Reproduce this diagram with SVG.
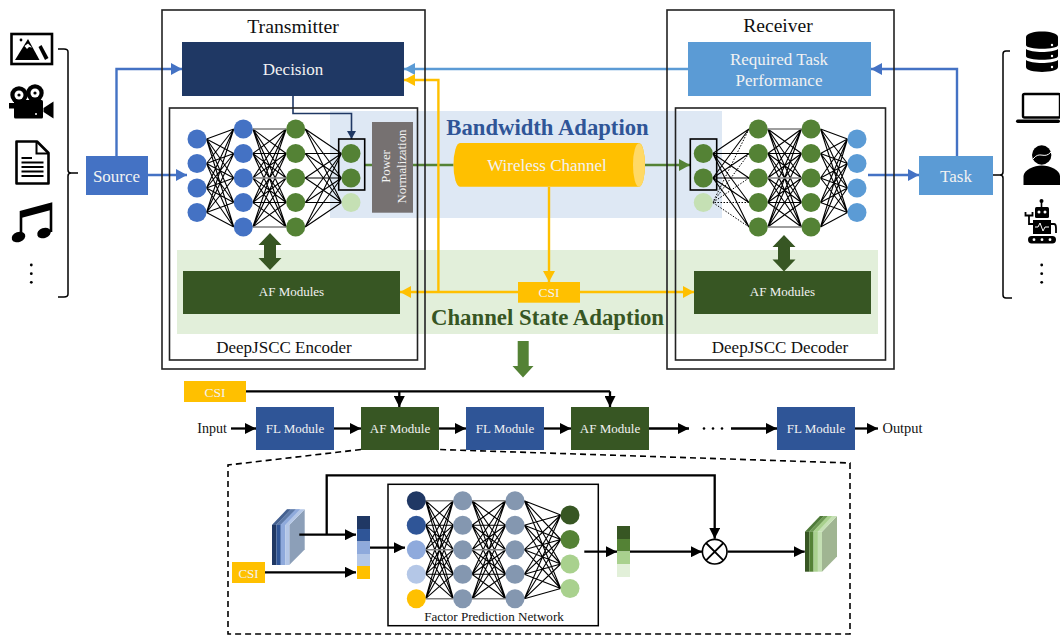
<svg xmlns="http://www.w3.org/2000/svg" xmlns:xlink="http://www.w3.org/1999/xlink" width="1060" height="635" viewBox="0 0 1060 635">
<style>
text{font-family:"Liberation Serif","Times New Roman",serif;text-anchor:middle}
.lt{fill:#f2f2f2}
.dk{fill:#111}
.box{fill:none;stroke:#222;stroke-width:1.6}
.m{fill:none;stroke:#000;stroke-width:1.1;vector-effect:non-scaling-stroke}
.g{fill:none;stroke:#7f7f7f;stroke-width:1.6;vector-effect:non-scaling-stroke}
.dot{fill:none;stroke:#000;stroke-width:1;stroke-dasharray:1.5 1.5;vector-effect:non-scaling-stroke}
.bl{fill:none;stroke:#4472c4;stroke-width:2.4}
.lb{fill:none;stroke:#5b9bd5;stroke-width:2.4}
.ye{fill:none;stroke:#ffc000;stroke-width:2.4}
.gr{fill:none;stroke:#548235;stroke-width:2.4}
.nv{fill:none;stroke:#1f3864;stroke-width:1.6}
.bk{fill:none;stroke:#000;stroke-width:2.3}
.br{fill:none;stroke:#000;stroke-width:1.5}
.blue{fill:#4472c4}.sky{fill:#5b9bd5}.grn{fill:#548235}.pale{fill:#c5e0b4}.sl{fill:#8497b0}
</style>
<defs>
<marker id="aBl" markerUnits="userSpaceOnUse" markerWidth="11" markerHeight="12" refX="11" refY="6" orient="auto"><path d="M0 0L11 6L0 12z" fill="#4472c4"/></marker>
<marker id="aLb" markerUnits="userSpaceOnUse" markerWidth="11" markerHeight="12" refX="11" refY="6" orient="auto"><path d="M0 0L11 6L0 12z" fill="#5b9bd5"/></marker>
<marker id="aYe" markerUnits="userSpaceOnUse" markerWidth="11" markerHeight="12" refX="11" refY="6" orient="auto"><path d="M0 0L11 6L0 12z" fill="#ffc000"/></marker>
<marker id="aGr" markerUnits="userSpaceOnUse" markerWidth="11" markerHeight="12" refX="11" refY="6" orient="auto"><path d="M0 0L11 6L0 12z" fill="#548235"/></marker>
<marker id="aNv" markerUnits="userSpaceOnUse" markerWidth="8" markerHeight="9" refX="8" refY="4.5" orient="auto"><path d="M0 0L8 4.5L0 9z" fill="#1f3864"/></marker>
<marker id="aBk" markerUnits="userSpaceOnUse" markerWidth="11" markerHeight="11" refX="11" refY="5.5" orient="auto"><path d="M0 0L11 5.5L0 11z" fill="#000"/></marker>
<g id="M55">
<path class="m" d="M0 0L100 24.5M0 0L100 49M0 0L100 73.5M0 0L100 98M0 24.5L100 0M0 24.5L100 24.5M0 24.5L100 49M0 24.5L100 73.5M0 24.5L100 98M0 49L100 0M0 49L100 24.5M0 49L100 73.5M0 49L100 98M0 73.5L100 0M0 73.5L100 24.5M0 73.5L100 49M0 73.5L100 73.5M0 73.5L100 98M0 98L100 0M0 98L100 24.5M0 98L100 49M0 98L100 73.5"/>
<path class="g" d="M0 0H100M0 49H100M0 98H100"/>
</g>
<path id="M45" class="m" d="M0 10L100 0M0 10L100 24.5M0 10L100 49M0 10L100 73.5M0 10L100 98M0 34.5L100 0M0 34.5L100 24.5M0 34.5L100 49M0 34.5L100 73.5M0 34.5L100 98M0 59L100 0M0 59L100 24.5M0 59L100 49M0 59L100 73.5M0 59L100 98M0 83.5L100 0M0 83.5L100 24.5M0 83.5L100 49M0 83.5L100 73.5M0 83.5L100 98"/>
<path id="M52" class="m" d="M0 0L100 24.5M0 0L100 49M0 24.5L100 24.5M0 24.5L100 49M0 49L100 24.5M0 49L100 49M0 73.5L100 24.5M0 73.5L100 49M0 98L100 24.5M0 98L100 49"/>
<path id="M51s" class="m" d="M0 0L100 73.5M0 24.5L100 73.5M0 49L100 73.5M0 73.5L100 73.5M0 98L100 73.5"/>
<path id="M51d" class="dot" d="M0 0L100 73.5M0 24.5L100 73.5M0 49L100 73.5M0 73.5L100 73.5M0 98L100 73.5"/>
<path id="M54b" class="m" d="M0 0L100 14.3M0 0L100 38.8M0 0L100 63.3M0 0L100 87.8M0 24.5L100 14.3M0 24.5L100 38.8M0 24.5L100 63.3M0 24.5L100 87.8M0 49L100 14.3M0 49L100 38.8M0 49L100 63.3M0 49L100 87.8M0 73.5L100 14.3M0 73.5L100 38.8M0 73.5L100 63.3M0 73.5L100 87.8M0 98L100 14.3M0 98L100 38.8M0 98L100 63.3M0 98L100 87.8"/>
</defs>

<rect width="1060" height="635" fill="#fff"/>

<g id="backgrounds">
<rect x="330" y="111" width="392" height="107" fill="#dee8f4"/>
<rect x="177" y="250" width="701" height="84" fill="#e2efda"/>
</g>

<g id="feature-cubes">
<g id="cube-in">
<path d="M289.3 525L304.7 509.3V549.5L289.3 565z" fill="#8c9fb8"/>
<path d="M272 525L287 509.3H304.7L289.3 525z" fill="#b4c7e7"/>
<path d="M272 525L287 509.3H291L276 525z" fill="#44608f"/>
<path d="M276 525L291 509.3H296L280.5 525z" fill="#5e7aa8"/>
<path d="M280.5 525L296 509.3H300L285 525z" fill="#8faadc"/>
<rect x="272" y="525" width="4.4" height="40" fill="#203864"/>
<rect x="276.4" y="525" width="4.4" height="40" fill="#2f5597"/>
<rect x="280.8" y="525" width="4.4" height="40" fill="#8faadc"/>
<rect x="285.2" y="525" width="4.1" height="40" fill="#b4c7e7"/>
</g>
<g id="cube-out">
<path d="M822 531.7L837 516V556.5L822 571.7z" fill="#a0b592"/>
<path d="M805 531.7L820 516H837L822 531.7z" fill="#c5e0b4"/>
<path d="M805 531.7L820 516H824L809 531.7z" fill="#4f7a3a"/>
<path d="M809 531.7L824 516H828L813 531.7z" fill="#6f9a55"/>
<path d="M813 531.7L828 516H832L817.5 531.7z" fill="#a9d18e"/>
<rect x="805" y="531.7" width="4.3" height="40" fill="#375623"/>
<rect x="809.3" y="531.7" width="4.3" height="40" fill="#548235"/>
<rect x="813.6" y="531.7" width="4.3" height="40" fill="#a9d18e"/>
<rect x="817.9" y="531.7" width="4.1" height="40" fill="#c5e0b4"/>
</g>
</g>

<g id="connectors">
<g id="enc-mesh">
<use xlink:href="#M45" href="#M45" transform="translate(206.5 129) scale(.273 1)"/>
<use xlink:href="#M55" href="#M55" transform="translate(252.8 129) scale(.334 1)"/>
<use xlink:href="#M52" href="#M52" transform="translate(305.2 129) scale(.363 1)"/>
<use xlink:href="#M51s" href="#M51s" transform="translate(305.2 129) scale(.363 1)"/>
</g>
<g id="dec-mesh">
<use xlink:href="#M52" href="#M52" transform="translate(749 129) scale(-.362 1)"/>
<use xlink:href="#M51d" href="#M51d" transform="translate(749 129) scale(-.362 1)"/>
<use xlink:href="#M55" href="#M55" transform="translate(767.8 129) scale(.337 1)"/>
<use xlink:href="#M45" href="#M45" transform="translate(847.5 129) scale(-.27 1)"/>
</g>
<g id="fpn-mesh">
<use xlink:href="#M55" href="#M55" transform="translate(425.6 500.7) scale(.278 1)"/>
<use xlink:href="#M55" href="#M55" transform="translate(472 500.7) scale(.337 1)"/>
<use xlink:href="#M54b" href="#M54b" transform="translate(524.3 500.7) scale(.364 1)"/>
</g>
<path class="bl" marker-end="url(#aBl)" d="M116.5 156V69H182"/>
<path class="bl" marker-end="url(#aBl)" d="M148 175H187"/>
<path class="lb" marker-end="url(#aLb)" d="M688 69H404"/>
<path class="bl" marker-end="url(#aBl)" d="M957 156V69H871"/>
<path class="bl" marker-end="url(#aBl)" d="M868 175H919"/>
<path class="nv" marker-end="url(#aNv)" d="M293 96V113.5H351.5V139"/>
<path class="gr" d="M365 165H372M413 165H453.5"/>
<path class="gr" marker-end="url(#aGr)" d="M634 165H690"/>
<path class="ye" marker-end="url(#aYe)" d="M549 187V282"/>
<path class="ye" marker-end="url(#aYe)" d="M518 292H400"/>
<path class="ye" marker-end="url(#aYe)" d="M438.4 292V80H404"/>
<path class="ye" marker-end="url(#aYe)" d="M580 292H694"/>
<path class="bk" d="M246 391.3H610"/>
<path class="bk" marker-end="url(#aBk)" d="M399.3 391.3V407"/>
<path class="bk" marker-end="url(#aBk)" d="M610 391.3V407"/>
<path class="bk" marker-end="url(#aBk)" d="M231 428.5H256"/>
<path class="bk" marker-end="url(#aBk)" d="M334 428.5H361"/>
<path class="bk" marker-end="url(#aBk)" d="M439 428.5H466"/>
<path class="bk" marker-end="url(#aBk)" d="M544 428.5H571"/>
<path class="bk" marker-end="url(#aBk)" d="M649 428.5H689"/>
<path class="bk" marker-end="url(#aBk)" d="M731 428.5H777"/>
<path class="bk" marker-end="url(#aBk)" d="M855 428.5H878"/>
<path d="M361 449.5L228 465V634H850V463L439 449.5" fill="none" stroke="#000" stroke-width="1.6" stroke-dasharray="6 4"/>
<path class="bk" marker-end="url(#aBk)" d="M299.3 534.7H356"/>
<path class="bk" marker-end="url(#aBk)" d="M326.7 534.7V475.3H714.7V538.8"/>
<path class="bk" marker-end="url(#aBk)" d="M265 572.3H356"/>
<path class="bk" marker-end="url(#aBk)" d="M370 547.7H405"/>
<path class="bk" marker-end="url(#aBk)" d="M584.3 551.7H617"/>
<path class="bk" marker-end="url(#aBk)" d="M630 551.7H702"/>
<path class="bk" marker-end="url(#aBk)" d="M727.5 551.7H804.7"/>
<path fill="#375623" d="M270 233L281.5 245H276V258H281.5L270 270L258.500 258H264V245H258.500z"/>
<path fill="#375623" d="M784 235L795.5 247H790V259.5H795.5L784 271.5L772.5 259.5H778V247H772.5z"/>
<path fill="#548235" d="M517.7 341H528.7V366H533.5L523 377.5L512.5 366H517.7z"/>
<path class="br" d="M58 49H64Q68 49 68 52V170Q68 173 71 173H78M71 173Q68 173 68 176V294Q68 297 64 297H58"/>
<path class="br" d="M1010 51H1006Q1003 51 1003 54V172Q1003 175 1000 175H993M1000 175Q1003 175 1003 178V295Q1003 298 1006 298H1012"/>
</g>

<g id="transmitter"><rect class="box" x="162" y="10" width="263" height="359"/><text class="dk" x="293" y="33" font-size="19.8">Transmitter</text></g>
<g id="receiver"><rect class="box" x="667" y="10" width="227" height="359"/><text class="dk" x="778" y="32" font-size="19.6">Receiver</text></g>
<g id="decision"><rect x="182" y="42" width="222" height="54" fill="#1f3864"/><text class="lt" x="293" y="75" font-size="17">Decision</text></g>
<g id="required-task"><rect x="688" y="42" width="183" height="54" fill="#5b9bd5"/><text class="lt" x="779" y="65" font-size="17">Required Task</text><text class="lt" x="779" y="86" font-size="17">Performance</text></g>
<g id="encoder"><rect class="box" x="169.5" y="108" width="248" height="252"/><text class="dk" x="284" y="353" font-size="17">DeepJSCC Encoder</text></g>
<g id="decoder"><rect class="box" x="675.5" y="108" width="210" height="252"/><text class="dk" x="780" y="353" font-size="17">DeepJSCC Decoder</text></g>
<g id="source"><rect x="86" y="156" width="62" height="39" fill="#4472c4"/><text class="lt" x="116.5" y="182" font-size="17">Source</text></g>
<g id="task"><rect x="919" y="156" width="74" height="39" fill="#5b9bd5"/><text class="lt" x="956" y="182" font-size="17">Task</text></g>

<g id="encoder-net">
<circle class="blue" cx="197" cy="139" r="9.5"/><circle class="blue" cx="197" cy="163.5" r="9.5"/><circle class="blue" cx="197" cy="188" r="9.5"/><circle class="blue" cx="197" cy="212.5" r="9.5"/>
<circle class="blue" cx="243.3" cy="129" r="9.5"/><circle class="blue" cx="243.3" cy="153.5" r="9.5"/><circle class="blue" cx="243.3" cy="178" r="9.5"/><circle class="blue" cx="243.3" cy="202.5" r="9.5"/><circle class="blue" cx="243.3" cy="227" r="9.5"/>
<circle class="grn" cx="295.7" cy="129" r="9.5"/><circle class="grn" cx="295.7" cy="153.5" r="9.5"/><circle class="grn" cx="295.7" cy="178" r="9.5"/><circle class="grn" cx="295.7" cy="202.5" r="9.5"/><circle class="grn" cx="295.7" cy="227" r="9.5"/>
<circle class="grn" cx="351" cy="153.5" r="9.5"/><circle class="grn" cx="351" cy="178" r="9.5"/><circle class="pale" cx="351" cy="202.5" r="9.5"/>
<rect x="338.7" y="139" width="26" height="51" fill="none" stroke="#000" stroke-width="1.6"/>
</g>
<g id="decoder-net">
<circle class="grn" cx="703.3" cy="153.5" r="9.5"/><circle class="grn" cx="703.3" cy="178" r="9.5"/><circle class="pale" cx="703.3" cy="202.5" r="9.5"/>
<rect x="690.3" y="139" width="26.4" height="51" fill="none" stroke="#000" stroke-width="1.6"/>
<circle class="grn" cx="758.3" cy="129" r="9.5"/><circle class="grn" cx="758.3" cy="153.5" r="9.5"/><circle class="grn" cx="758.3" cy="178" r="9.5"/><circle class="grn" cx="758.3" cy="202.5" r="9.5"/><circle class="grn" cx="758.3" cy="227" r="9.5"/>
<circle class="grn" cx="811" cy="129" r="9.5"/><circle class="grn" cx="811" cy="153.5" r="9.5"/><circle class="grn" cx="811" cy="178" r="9.5"/><circle class="grn" cx="811" cy="202.5" r="9.5"/><circle class="grn" cx="811" cy="227" r="9.5"/>
<circle class="sky" cx="857" cy="139" r="9.5"/><circle class="sky" cx="857" cy="163.5" r="9.5"/><circle class="sky" cx="857" cy="188" r="9.5"/><circle class="sky" cx="857" cy="212.5" r="9.5"/>
</g>
<g id="power-norm"><rect x="372" y="122" width="41" height="90.7" fill="#767171"/>
<text class="lt" font-size="12.8" transform="translate(390 166.5) rotate(-90)">Power</text>
<text class="lt" font-size="12.8" transform="translate(405.5 166.5) rotate(-90)">Normalization</text></g>
<g id="wireless-channel"><path d="M460 143H639A6 21.8 0 0 1 639 186.7H460A6.5 21.8 0 0 1 460 143z" fill="#ffc000"/><ellipse cx="639" cy="165" rx="6" ry="21.8" fill="#ffd966"/><text class="lt" x="547" y="171" font-size="17">Wireless Channel</text></g>
<g id="af-enc"><rect x="183" y="271" width="217" height="43" fill="#375623"/><text class="lt" x="291.500" y="296" font-size="13">AF Modules</text></g>
<g id="af-dec"><rect x="694" y="271" width="177" height="43" fill="#375623"/><text class="lt" x="782.500" y="296" font-size="13">AF Modules</text></g>
<g id="csi-main"><rect x="518" y="282" width="62" height="20.7" fill="#ffc000"/><text class="lt" x="549" y="296.5" font-size="13.500">CSI</text></g>
<text id="label-bandwidth" x="547.5" y="135" font-size="22.7" font-weight="bold" fill="#2f5597">Bandwidth Adaption</text>
<text id="label-csa" x="547.5" y="325" font-size="22.8" font-weight="bold" fill="#375623">Channel State Adaption</text>

<g id="csi-top"><rect x="184" y="381" width="62" height="21" fill="#ffc000"/><text class="lt" x="215" y="396.5" font-size="13.500">CSI</text></g>
<text id="input" class="dk" x="212" y="433" font-size="14">Input</text>
<text id="output" class="dk" x="902.5" y="433" font-size="14.400">Output</text>
<g id="fl1"><rect x="256" y="407" width="78" height="43" fill="#2f5597"/><text class="lt" x="295" y="433" font-size="13">FL Module</text></g>
<g id="af1"><rect x="361" y="407" width="78" height="43" fill="#375623"/><text class="lt" x="400" y="433" font-size="13">AF Module</text></g>
<g id="fl2"><rect x="466" y="407" width="78" height="43" fill="#2f5597"/><text class="lt" x="505" y="433" font-size="13">FL Module</text></g>
<g id="af2"><rect x="571" y="407" width="78" height="43" fill="#375623"/><text class="lt" x="610" y="433" font-size="13">AF Module</text></g>
<g id="fl3"><rect x="777" y="407" width="78" height="43" fill="#2f5597"/><text class="lt" x="816" y="433" font-size="13">FL Module</text></g>
<g id="ellipsis"><circle cx="704" cy="428.5" r="1.300"/><circle cx="713" cy="428.5" r="1.300"/><circle cx="722" cy="428.5" r="1.300"/></g>

<g id="csi-af"><rect x="232" y="562" width="33" height="21" fill="#ffc000"/><text class="lt" x="248.5" y="577.5" font-size="13">CSI</text></g>
<g id="vec-in">
<rect x="357" y="516" width="13" height="13" fill="#203864"/><rect x="357" y="529" width="13" height="12.5" fill="#2f5597"/><rect x="357" y="541.5" width="13" height="12.5" fill="#8faadc"/><rect x="357" y="554" width="13" height="12" fill="#b4c7e7"/><rect x="357" y="566" width="13" height="13" fill="#ffc000"/>
</g>
<g id="vec-out">
<rect x="617" y="526" width="13" height="13" fill="#375623"/><rect x="617" y="539" width="13" height="12.5" fill="#548235"/><rect x="617" y="551.5" width="13" height="12.5" fill="#a9d18e"/><rect x="617" y="564" width="13" height="13" fill="#e2f0d9"/>
</g>
<g id="fpn">
<rect x="388" y="484.3" width="210.3" height="141.4" fill="none" stroke="#000" stroke-width="1.5"/>
<text class="dk" x="494" y="621" font-size="13.100">Factor Prediction Network</text>
<circle cx="416.3" cy="500.7" r="9.5" fill="#203864"/><circle cx="416.3" cy="525.2" r="9.5" fill="#2f5597"/><circle cx="416.3" cy="549.7" r="9.5" fill="#8faadc"/><circle cx="416.3" cy="574.2" r="9.5" fill="#b4c7e7"/><circle cx="416.3" cy="598.7" r="9.5" fill="#ffc000"/>
<circle class="sl" cx="462.7" cy="500.7" r="9.5"/><circle class="sl" cx="462.7" cy="525.2" r="9.5"/><circle class="sl" cx="462.7" cy="549.7" r="9.5"/><circle class="sl" cx="462.7" cy="574.2" r="9.5"/><circle class="sl" cx="462.7" cy="598.7" r="9.5"/>
<circle class="sl" cx="515" cy="500.7" r="9.5"/><circle class="sl" cx="515" cy="525.2" r="9.5"/><circle class="sl" cx="515" cy="549.7" r="9.5"/><circle class="sl" cx="515" cy="574.2" r="9.5"/><circle class="sl" cx="515" cy="598.7" r="9.5"/>
<circle cx="570" cy="515" r="9.5" fill="#375623"/><circle cx="570" cy="539.5" r="9.5" fill="#548235"/><circle cx="570" cy="564" r="9.5" fill="#a9d18e"/><circle cx="570" cy="588.5" r="9.5" fill="#a9d18e"/>
</g>
<g id="multiply"><circle cx="714.7" cy="551.7" r="12.3" fill="#fff" stroke="#000" stroke-width="1.6"/><path d="M706 543L723.4 560.4M723.4 543L706 560.4" stroke="#000" stroke-width="1.8"/></g>

<g id="icon-image"><rect x="11.5" y="34" width="40.5" height="30" fill="#fff" stroke="#000" stroke-width="2.6"/><circle cx="21" cy="40" r="1.4"/><path d="M15 60L28 39L39.5 60z"/><path d="M24.5 46L28 43.5L32 47.5L29 47L27 49z" fill="#fff"/><path d="M38.5 47L41.5 45L48.5 58L45 60z"/></g>
<g id="icon-camera"><circle cx="19" cy="95" r="8.7"/><circle cx="35" cy="93" r="8.7"/><circle cx="19" cy="95" r="4.5" fill="#fff"/><circle cx="35" cy="93" r="4.5" fill="#fff"/><circle cx="19" cy="95" r="1.6"/><circle cx="35" cy="93" r="1.6"/><rect x="14" y="100" width="29" height="18.5" rx="1.5"/><path d="M43.5 108L53.5 101.5V118.5L43.5 112z"/><rect x="9" y="103" width="5.5" height="5.5"/><circle cx="36" cy="114" r="1" fill="#fff"/></g>
<g id="icon-document"><path d="M16.5 141.5H37L48.5 153V183.5H16.5z" fill="#fff" stroke="#000" stroke-width="2.6" stroke-linejoin="round"/><path d="M36.5 142V153.5H48" fill="none" stroke="#000" stroke-width="2"/><path d="M21.5 158H32M21.5 162.5H43.5M21.5 167H43.5M21.5 171.5H43.5M21.5 176H43.5" stroke="#000" stroke-width="2" fill="none"/></g>
<g id="icon-music"><path d="M21 236V212L51 204V232" fill="none" stroke="#000" stroke-width="2.6"/><path d="M21 212L51 204V210L21 218z"/><ellipse cx="18.5" cy="237" rx="7" ry="5" transform="rotate(-20 18.5 237)"/><ellipse cx="44" cy="233" rx="7" ry="5" transform="rotate(-20 44 233)"/></g>
<g id="dots-left"><circle cx="31.3" cy="265" r="1.4"/><circle cx="31.3" cy="273.7" r="1.4"/><circle cx="31.3" cy="282.3" r="1.4"/></g>

<g id="icon-db"><path d="M1026 37C1026 29.5 1058 29.5 1058 37V45C1058 50 1026 50 1026 45z"/><path d="M1026 49C1031 53 1053 53 1058 49V56C1058 61 1026 61 1026 56z"/><path d="M1026 60C1031 64 1053 64 1058 60V67C1058 73.500 1026 73.500 1026 67z"/><circle cx="1052" cy="45" r="1.2" fill="#fff"/><circle cx="1052" cy="56" r="1.2" fill="#fff"/><circle cx="1052" cy="67" r="1.2" fill="#fff"/></g>
<g id="icon-laptop"><rect x="1023" y="94" width="37" height="23.5" rx="1.5" fill="#fff" stroke="#000" stroke-width="2.4"/><rect x="1016" y="119.500" width="44" height="3.500" rx="1.700"/></g>
<g id="icon-person"><circle cx="1041.7" cy="155" r="9.700"/><path d="M1033 159C1040 150 1044 160 1051 152" fill="none" stroke="#fff" stroke-width="1"/><path d="M1023.500 185V176C1024 170 1034 165.500 1041.700 165.500C1050 165.500 1059.500 170 1060 176V185z"/></g>
<g id="icon-robot"><rect x="1040.700" y="201" width="1.600" height="6"/><circle cx="1041.500" cy="201" r="2"/><rect x="1035" y="207" width="14" height="11" rx="1.500"/><circle cx="1039" cy="212" r="1.500" fill="#fff"/><circle cx="1045" cy="212" r="1.500" fill="#fff"/><rect x="1033" y="220" width="18" height="14"/><path d="M1035 227H1038L1040 223L1043 231L1045 227H1049" fill="none" stroke="#fff" stroke-width="1"/><rect x="1028" y="236" width="28" height="7.500" rx="3.700"/><circle cx="1034" cy="239.700" r="1.400" fill="#fff"/><circle cx="1042" cy="239.700" r="1.400" fill="#fff"/><circle cx="1050" cy="239.700" r="1.400" fill="#fff"/><path d="M1033 224H1029V216M1025.500 212V215.500H1032.500V212" fill="none" stroke="#000" stroke-width="1.800"/><path d="M1051 224H1054Q1056 224 1056 228V233" fill="none" stroke="#000" stroke-width="1.800"/></g>
<g id="dots-right"><circle cx="1041.700" cy="265" r="1.400"/><circle cx="1041.700" cy="273.700" r="1.400"/><circle cx="1041.700" cy="282.300" r="1.400"/></g>
</svg>
